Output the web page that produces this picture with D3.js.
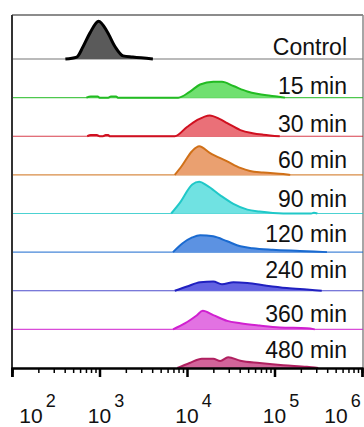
<!DOCTYPE html>
<html><head><meta charset="utf-8">
<script src="https://cdn.jsdelivr.net/npm/d3@7"></script>
<style>html,body{margin:0;padding:0;background:#fff;}svg{display:block;}</style>
</head><body>
<svg id="c" width="364" height="427"></svg>
<script>
// ---- data (x = log10 intensity, y = relative count) ----
const labels = ["Control","15 min","30 min","60 min","90 min","120 min","240 min","360 min","480 min"];
const histControl = [[2.61,0],[2.74,5],[2.81,31],[2.89,67],[2.99,98],[3.09,70],[3.18,31],[3.27,8],[3.38,5],[3.61,0]];
const hist15 = [[2.85,0],[2.9,3],[2.98,3],[3.0,0],[3.1,0],[3.13,3],[3.19,3],[3.21,0],[3.9,0],[4.03,15],[4.15,34],[4.3,41],[4.4,41],[4.53,30],[4.69,16],[4.8,10],[4.91,6],[5.03,3],[5.12,0]];
const hist30 = [[2.86,0],[2.9,3],[2.97,3],[3.0,0],[3.04,0],[3.07,3],[3.1,3],[3.12,0],[3.86,0],[4.0,24],[4.11,41],[4.26,54],[4.37,45],[4.46,34],[4.61,16],[4.75,8],[4.87,4],[5.06,0]];
const hist60 = [[3.86,0],[3.94,23],[4.06,62],[4.14,74],[4.26,57],[4.46,35],[4.61,18],[4.72,10],[4.87,6],[5.1,2],[5.18,0]];
const hist90 = [[3.82,0],[3.92,28],[4.06,75],[4.14,82],[4.23,72],[4.38,47],[4.53,25],[4.69,10],[4.83,5],[5.1,0],[5.42,0],[5.45,2],[5.49,0]];
const hist120 = [[3.84,0],[3.95,23],[4.06,38],[4.15,44],[4.3,41],[4.46,28],[4.61,15],[4.75,10],[4.98,6],[5.29,3],[5.6,0]];
const hist240 = [[3.86,0],[4.0,11],[4.15,22],[4.3,24],[4.4,17],[4.53,22],[4.69,20],[4.91,13],[5.14,7],[5.37,3],[5.54,0]];
const hist360 = [[3.84,0],[3.98,16],[4.11,36],[4.18,48],[4.3,37],[4.46,22],[4.61,16],[4.83,10],[5.06,5],[5.37,3],[5.46,0]];
const hist480 = [[3.89,0],[4.03,13],[4.17,24],[4.3,24],[4.38,18],[4.47,28],[4.61,19],[4.83,13],[5.1,7],[5.37,3],[5.5,0]];
const histograms = [histControl,hist15,hist30,hist60,hist90,hist120,hist240,hist360,hist480];
const tickExponents = [2,3,4,5,6];

// ---- style / layout ----
const fills   = ["#5a5a5a","#70e070","#ea7078","#eaa070","#70e2e2","#5c92e2","#6262e2","#e272e2","#d2649a"];
const strokes = ["#000000","#22bb22","#d01020","#d07018","#20c8c8","#1a6ad0","#2020c0","#d020d0","#b02060"];
const labelOffsets = [-4,-4,-4,-7,-7,-10,-13,-7,-10];

const svg = d3.select("#c");
const x = d3.scaleLog().domain([1e2,1e6]).range([12,362]);
const top0 = 15, firstBase = 59, lastBase = 368;
const step = (lastBase-firstBase)/8;
const yh = d3.scaleLinear().domain([0,100]).range([0,step]);

// frame
svg.append("line").attr("x1",12).attr("x2",363).attr("y1",top0).attr("y2",top0).attr("stroke","#666").attr("stroke-width",1.5);
svg.append("line").attr("x1",363).attr("x2",363).attr("y1",top0).attr("y2",lastBase).attr("stroke","#888").attr("stroke-width",1.5);

histograms.forEach((h,i)=>{
  const base = firstBase + i*step;
  // baseline across row
  if (i===0) {
    svg.append("line").attr("x1",12).attr("x2",363).attr("y1",base).attr("y2",base).attr("stroke","#777").attr("stroke-width",1.2);
  } else if (i<8) {
    svg.append("line").attr("x1",12).attr("x2",363).attr("y1",base).attr("y2",base).attr("stroke",strokes[i]).attr("stroke-width",1.2).attr("opacity",0.8);
  }
  const area = d3.area().x(d=>x(Math.pow(10,d[0]))).y0(base).y1(d=>base-yh(d[1])).curve(d3.curveMonotoneX);
  const line = d3.line().x(d=>x(Math.pow(10,d[0]))).y(d=>base-yh(d[1])).curve(d3.curveMonotoneX);
  svg.append("path").datum(h).attr("d",area).attr("fill",fills[i]);
  svg.append("path").datum(h).attr("d",line).attr("fill","none").attr("stroke",strokes[i]).attr("stroke-width",i===0?3:2).attr("stroke-linejoin","round");
  svg.append("text").attr("x",347).attr("y",base+labelOffsets[i]).attr("text-anchor","end")
    .attr("font-family","'Liberation Sans', Arial, sans-serif").attr("font-size",23).attr("fill","#111").text(labels[i]);
});

// left border
svg.append("line").attr("x1",12).attr("x2",12).attr("y1",top0).attr("y2",lastBase+9).attr("stroke","#333").attr("stroke-width",2);

// axis
const allTicks = x.ticks();
const major = tickExponents.map(e=>Math.pow(10,e));
const minor = allTicks.filter(t=>!major.some(m=>Math.abs(m-t)<1e-6));
const gMinor = svg.append("g").attr("transform",`translate(0,${lastBase})`)
  .call(d3.axisBottom(x).tickValues(minor).tickSize(5).tickFormat(""));
const gMajor = svg.append("g").attr("transform",`translate(0,${lastBase})`)
  .call(d3.axisBottom(x).tickValues(major).tickSize(9).tickFormat(""));
[gMinor,gMajor].forEach(g=>{g.select(".domain").attr("stroke","#000").attr("stroke-width",2);g.selectAll(".tick line").attr("stroke","#000").attr("stroke-width",1.5);});
gMajor.selectAll(".tick line").attr("stroke-width",2.5);

tickExponents.forEach(e=>{
  const cx = Math.max(31, Math.min(336, x(Math.pow(10,e))));
  const t = svg.append("text").attr("x",cx-11.7).attr("y",423)
    .attr("font-family","'Liberation Sans', Arial, sans-serif").attr("fill","#111");
  t.append("tspan").attr("font-size",21).text("10");
  t.append("tspan").attr("font-size",18).attr("dx",3).attr("dy",-16).text(String(e));
});
</script>
</body></html>
